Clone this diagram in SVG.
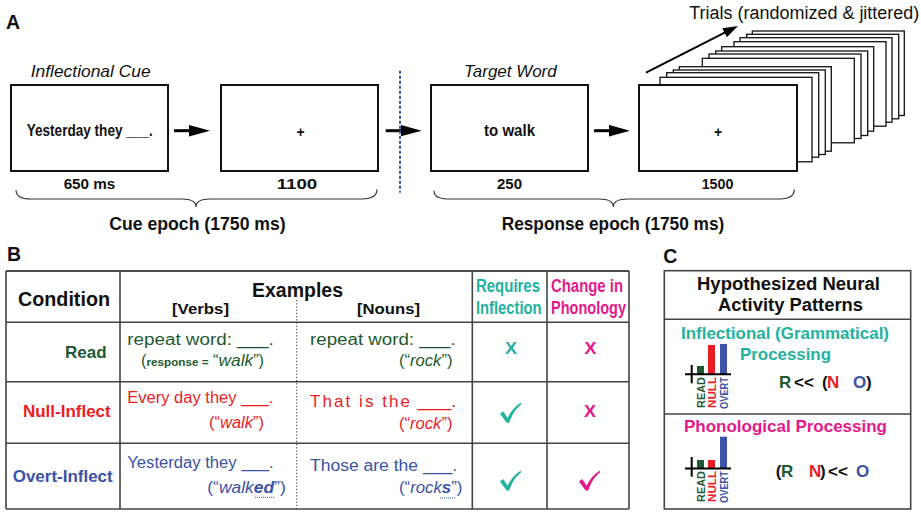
<svg xmlns="http://www.w3.org/2000/svg" width="921" height="512" viewBox="0 0 921 512">
<style>
text{font-family:"Liberation Sans",Arial,Helvetica,sans-serif;fill:#111}
.b{font-weight:bold}
.i{font-style:italic}
.box{fill:#fff;stroke:#111;stroke-width:2}
.card{fill:#fff;stroke:#111;stroke-width:1.3}
.arr{stroke:#000;stroke-width:3;fill:none}
.brace{fill:none;stroke:#333;stroke-width:1.1}
.grid{stroke:#444;stroke-width:1.6}
.g{fill:#1e5a30}
.r{fill:#ec1c24}
.bl{fill:#3a53a4}
.tl{fill:#22b2a0}
.mg{fill:#e5188b}
.k{fill:#111}
.ax{stroke:#000;stroke-width:2}
</style>
<defs>
<marker id="ah" markerUnits="userSpaceOnUse" markerWidth="22" markerHeight="12" refX="13" refY="5.75" orient="auto"><path d="M0,0 L21,5.75 L0,11.5 Z" fill="#000"/></marker>
<marker id="ah2" markerUnits="userSpaceOnUse" markerWidth="16" markerHeight="11" refX="9" refY="5" orient="auto"><path d="M0,0 L15,5 L0,10 Z" fill="#000"/></marker>
<path id="check" d="M0,11 L3.2,8.6 L7.6,15.2 C10.5,9 15,3.5 21,0 L21,2 C16,5.8 12.2,11.5 9.2,20 L6.6,20 Z"/>
</defs>

<!-- Panel A -->
<g id="panelA">
<text class="b" x="6" y="29" font-size="19.5">A</text>
<text class="i" x="30.7" y="77.3" font-size="16.5" textLength="120" lengthAdjust="spacingAndGlyphs">Inflectional Cue</text>
<text class="i" x="464" y="77.3" font-size="16.5" textLength="92.7" lengthAdjust="spacingAndGlyphs">Target Word</text>
<text x="689.3" y="18.5" font-size="18" textLength="230" lengthAdjust="spacingAndGlyphs">Trials (randomized &amp; jittered)</text>
</g>

<g id="screen-cue">
<rect class="box" x="11" y="85" width="157" height="86"/>
<text class="b" x="26.7" y="136" font-size="17" textLength="126" lengthAdjust="spacingAndGlyphs">Yesterday they ___.</text>
<text class="b" x="89.5" y="188.5" font-size="15" text-anchor="middle" textLength="51.7" lengthAdjust="spacingAndGlyphs">650 ms</text>
</g>
<g id="screen-fix1">
<rect class="box" x="221" y="85" width="157" height="86"/>
<text class="b" x="300.5" y="137" font-size="14" text-anchor="middle">+</text>
<text class="b" x="297" y="188.5" font-size="15" text-anchor="middle" textLength="40.6" lengthAdjust="spacingAndGlyphs">1100</text>
</g>
<g id="screen-target">
<rect class="box" x="431" y="85" width="157" height="86"/>
<text class="b" x="484" y="136" font-size="17" textLength="51" lengthAdjust="spacingAndGlyphs">to walk</text>
<text class="b" x="509.5" y="188.5" font-size="15" text-anchor="middle">250</text>
</g>
<g id="screen-fix2">
<rect class="card" x="752.3" y="31" width="152" height="84.5"/>
<rect class="card" x="746.7" y="34.3" width="152" height="84.5"/>
<rect class="card" x="740" y="37.7" width="152" height="84.5"/>
<rect class="card" x="734" y="41.7" width="152" height="84.5"/>
<rect class="card" x="721.7" y="46.7" width="152" height="84.5"/>
<rect class="card" x="715.7" y="51" width="152" height="84.5"/>
<rect class="card" x="709" y="54" width="152" height="84.5"/>
<rect class="card" x="702.3" y="58.3" width="152" height="84.5"/>
<rect class="card" x="679.3" y="66.7" width="152" height="84.5"/>
<rect class="card" x="673.3" y="70" width="152" height="84.5"/>
<rect class="card" x="666.7" y="72.7" width="152" height="84.5"/>
<rect class="card" x="660" y="77.3" width="152" height="84.5"/>
<rect class="box" x="639" y="85" width="158" height="86"/>
<text class="b" x="718" y="137" font-size="14" text-anchor="middle">+</text>
<text class="b" x="717.5" y="188.5" font-size="15" text-anchor="middle" textLength="31.6" lengthAdjust="spacingAndGlyphs">1500</text>
</g>

<g id="epochs">
<path class="brace" d="M16,190 C16,196.5 21,199 31,199 L182,199 C191,199 196,201 196,207 C196,201 201,199 210,199 L362,199 C372,199 377,196 377,189.3"/>
<text class="b" x="109.3" y="230" font-size="18" textLength="176.4" lengthAdjust="spacingAndGlyphs">Cue epoch (1750 ms)</text>
<path class="brace" d="M434,190.7 C434,196.5 439,199 449,199 L599,199 C608,199 613.3,201 613.3,207 C613.3,201 618.5,199 628,199 L780,199 C790,199 794.3,196 794.3,189.3"/>
<text class="b" x="501.7" y="230" font-size="18" textLength="222.6" lengthAdjust="spacingAndGlyphs">Response epoch (1750 ms)</text>
</g>

<g id="connectors">
<line class="arr" x1="174" y1="130.7" x2="202" y2="130.7" marker-end="url(#ah)"/>
<line class="arr" x1="385.7" y1="130.7" x2="413.7" y2="130.7" marker-end="url(#ah)"/>
<line class="arr" x1="594" y1="130.7" x2="622" y2="130.7" marker-end="url(#ah)"/>
<line stroke="#000" stroke-width="2" x1="646" y1="72.7" x2="732.6" y2="28.7" marker-end="url(#ah2)"/>
<line x1="400" y1="70.7" x2="400" y2="192.7" stroke="#3a53a4" stroke-width="2" stroke-dasharray="3 2"/>
</g>

<!-- Panel B -->
<g id="panelB">
<text class="b" x="7" y="261" font-size="19.5">B</text>
<g id="table-grid">
<line x1="6" y1="271" x2="629" y2="271" stroke="#111" stroke-width="1.6"/>
<line class="grid" x1="6" y1="322.3" x2="629" y2="322.3"/>
<line class="grid" x1="6" y1="381.7" x2="629" y2="381.7"/>
<line class="grid" x1="6" y1="443.3" x2="629" y2="443.3"/>
<line class="grid" x1="6" y1="509" x2="629" y2="509"/>
<line class="grid" x1="6" y1="271" x2="6" y2="509"/>
<line class="grid" x1="120" y1="271" x2="120" y2="509"/>
<line class="grid" x1="472.3" y1="271" x2="472.3" y2="509"/>
<line class="grid" x1="547" y1="271" x2="547" y2="509"/>
<line class="grid" x1="629" y1="271" x2="629" y2="509"/>
<line x1="296.7" y1="300" x2="296.7" y2="509" stroke="#333" stroke-width="1" stroke-dasharray="1.2 2"/>
</g>
<g id="table-header">
<text class="b" x="18" y="306" font-size="19.5" textLength="92" lengthAdjust="spacingAndGlyphs">Condition</text>
<text class="b" x="252" y="297" font-size="19.5" textLength="91" lengthAdjust="spacingAndGlyphs">Examples</text>
<text class="b" x="172" y="314" font-size="15.5" textLength="57" lengthAdjust="spacingAndGlyphs">[Verbs]</text>
<text class="b" x="357" y="314" font-size="15.5" textLength="63" lengthAdjust="spacingAndGlyphs">[Nouns]</text>
<text class="b tl" x="476" y="292" font-size="17.5" textLength="64" lengthAdjust="spacingAndGlyphs">Requires</text>
<text class="b tl" x="476" y="314" font-size="17.5" textLength="65.5" lengthAdjust="spacingAndGlyphs">Inflection</text>
<text class="b mg" x="551" y="292" font-size="17.5" textLength="72" lengthAdjust="spacingAndGlyphs">Change in</text>
<text class="b mg" x="551" y="314" font-size="17.5" textLength="75" lengthAdjust="spacingAndGlyphs">Phonology</text>
</g>
<g id="row-read">
<text class="b g" x="65" y="358" font-size="17">Read</text>
<text class="g" x="127.3" y="344.5" font-size="16" textLength="146.4" lengthAdjust="spacingAndGlyphs">repeat word: ___.</text>
<text class="g" x="141" y="365.5" font-size="16" textLength="123" lengthAdjust="spacingAndGlyphs">(<tspan class="b" font-size="11.5">response =</tspan> “<tspan class="i" font-size="17">walk</tspan>”)</text>
<text class="g" x="310" y="344.5" font-size="16" textLength="145.7" lengthAdjust="spacingAndGlyphs">repeat word: ___.</text>
<text class="g" x="399" y="365.5" font-size="16" textLength="53.5" lengthAdjust="spacingAndGlyphs">(“<tspan class="i">rock</tspan>”)</text>
<text class="b tl" x="511" y="353.5" font-size="16" text-anchor="middle" textLength="12" lengthAdjust="spacingAndGlyphs">X</text>
<text class="b mg" x="590.5" y="353.5" font-size="16" text-anchor="middle" textLength="12" lengthAdjust="spacingAndGlyphs">X</text>
</g>
<g id="row-null">
<text class="b r" x="23" y="417" font-size="17" textLength="87.7" lengthAdjust="spacingAndGlyphs">Null-Inflect</text>
<text class="r" x="127.3" y="403" font-size="16" textLength="146" lengthAdjust="spacingAndGlyphs">Every day they ___.</text>
<text class="r" x="209" y="428" font-size="16" textLength="55" lengthAdjust="spacingAndGlyphs">(“<tspan class="i">walk</tspan>”)</text>
<text class="r" x="310" y="406.5" font-size="17" textLength="100" lengthAdjust="spacing">That is the</text>
<text class="r" x="417.7" y="406.5" font-size="17" textLength="39" lengthAdjust="spacingAndGlyphs">___.</text>
<text class="r" x="399" y="428.5" font-size="16" textLength="53.5" lengthAdjust="spacingAndGlyphs">(“<tspan class="i">rock</tspan>”)</text>
<use href="#check" x="500" y="402.7" class="tl"/>
<text class="b mg" x="590" y="416.7" font-size="16" text-anchor="middle" textLength="12" lengthAdjust="spacingAndGlyphs">X</text>
</g>
<g id="row-overt">
<text class="b bl" x="12.7" y="482" font-size="17" textLength="100" lengthAdjust="spacingAndGlyphs">Overt-Inflect</text>
<text class="bl" x="127.3" y="468.3" font-size="16" textLength="146.2" lengthAdjust="spacingAndGlyphs">Yesterday they ___.</text>
<text class="bl" x="207.3" y="492.7" font-size="16" textLength="78.4" lengthAdjust="spacingAndGlyphs">(“<tspan class="i">walk</tspan><tspan class="i b">ed</tspan>”)</text>
<line x1="255" y1="497.3" x2="275" y2="497.3" stroke="#3a53a4" stroke-width="1" stroke-dasharray="1 1"/>
<text class="bl" x="310" y="470.5" font-size="16" textLength="147" lengthAdjust="spacingAndGlyphs">Those are the ___.</text>
<text class="bl" x="399" y="493.3" font-size="16" textLength="63.3" lengthAdjust="spacingAndGlyphs">(“<tspan class="i">rock</tspan><tspan class="i b">s</tspan>”)</text>
<line x1="440" y1="498" x2="455" y2="498" stroke="#3a53a4" stroke-width="1" stroke-dasharray="1 1"/>
<use href="#check" x="500" y="470.5" class="tl"/>
<use href="#check" x="579" y="470.5" class="mg"/>
</g>
</g>

<!-- Panel C -->
<g id="panelC">
<text class="b" x="663.3" y="262.5" font-size="19.5">C</text>
<rect x="664.3" y="270.7" width="246.4" height="238.3" fill="none" stroke="#444" stroke-width="1.6"/>
<line class="grid" x1="664.3" y1="319.3" x2="910.7" y2="319.3"/>
<line class="grid" x1="664.3" y1="414" x2="910.7" y2="414"/>
<g id="c-title">
<text class="b" x="697" y="290" font-size="17.5" textLength="183" lengthAdjust="spacingAndGlyphs">Hypothesized Neural</text>
<text class="b" x="718" y="311" font-size="17.5" textLength="145" lengthAdjust="spacingAndGlyphs">Activity Patterns</text>
</g>
<g id="c-inflectional">
<text class="b tl" x="681" y="339" font-size="16.5" textLength="208" lengthAdjust="spacingAndGlyphs">Inflectional (Grammatical)</text>
<text class="b tl" x="740" y="360" font-size="16.5" textLength="91" lengthAdjust="spacingAndGlyphs">Processing</text>
<rect class="g" x="697" y="366" width="7" height="8.3"/>
<rect class="r" x="708" y="345" width="7" height="29.3"/>
<rect class="bl" x="720" y="344" width="7" height="30.3"/>
<line class="ax" x1="685" y1="374.3" x2="731" y2="374.3"/>
<line class="ax" x1="691.7" y1="365" x2="691.7" y2="383.3"/>
<text class="b g" transform="translate(704.5,377) rotate(-90)" text-anchor="end" font-size="10" textLength="31" lengthAdjust="spacingAndGlyphs">READ</text>
<text class="b r" transform="translate(715.5,377) rotate(-90)" text-anchor="end" font-size="10" textLength="31" lengthAdjust="spacingAndGlyphs">NULL</text>
<text class="b bl" transform="translate(727.5,377) rotate(-90)" text-anchor="end" font-size="10" textLength="32" lengthAdjust="spacingAndGlyphs">OVERT</text>
<text class="b" y="388" font-size="17"><tspan class="g" x="779">R</tspan><tspan class="k" x="794">&lt;&lt;</tspan><tspan class="k" x="822">(</tspan><tspan class="r" x="827">N</tspan><tspan class="bl" x="853">O</tspan><tspan class="k" x="866">)</tspan></text>
</g>
<g id="c-phonological">
<text class="b mg" x="684" y="432" font-size="16.5" textLength="203" lengthAdjust="spacingAndGlyphs">Phonological Processing</text>
<rect class="g" x="697" y="460" width="7" height="8.3"/>
<rect class="r" x="708" y="460" width="7" height="8.3"/>
<rect class="bl" x="720" y="436.7" width="7" height="31.6"/>
<line class="ax" x1="685" y1="468.5" x2="731" y2="468.5"/>
<line class="ax" x1="691.7" y1="457" x2="691.7" y2="476.7"/>
<text class="b g" transform="translate(704.5,471) rotate(-90)" text-anchor="end" font-size="10" textLength="31" lengthAdjust="spacingAndGlyphs">READ</text>
<text class="b r" transform="translate(715.5,471) rotate(-90)" text-anchor="end" font-size="10" textLength="31" lengthAdjust="spacingAndGlyphs">NULL</text>
<text class="b bl" transform="translate(727.5,471) rotate(-90)" text-anchor="end" font-size="10" textLength="32" lengthAdjust="spacingAndGlyphs">OVERT</text>
<text class="b" y="477" font-size="17"><tspan class="k" x="775.7">(</tspan><tspan class="g" x="781">R</tspan><tspan class="r" x="809">N</tspan><tspan class="k" x="820">)</tspan><tspan class="k" x="828">&lt;&lt;</tspan><tspan class="bl" x="856">O</tspan></text>
</g>
</g>
</svg>
